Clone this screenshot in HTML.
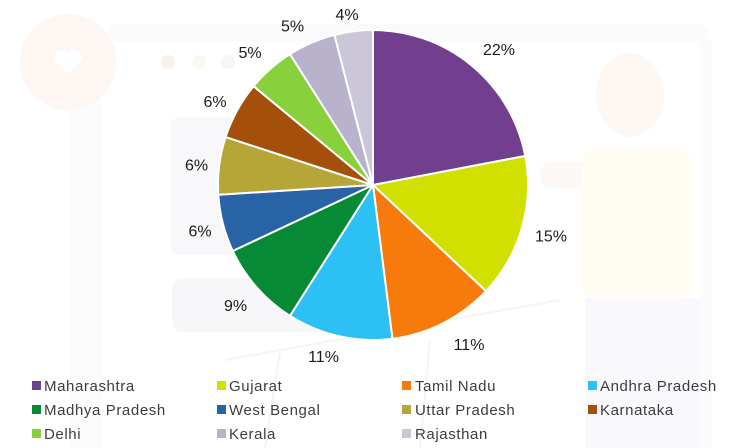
<!DOCTYPE html>
<html><head><meta charset="utf-8"><style>
html,body{margin:0;padding:0;background:#fff;}
body{width:741px;height:448px;overflow:hidden;position:relative;font-family:"Liberation Sans",sans-serif;}
svg{position:absolute;left:0;top:0;}
</style></head><body>
<svg width="741" height="448" viewBox="0 0 741 448" xmlns="http://www.w3.org/2000/svg">
<!-- faint background illustration -->
<rect x="108" y="24" width="600" height="17" rx="8" fill="#fafafc"/>
<rect x="70" y="100" width="32" height="348" fill="#fcfcfd"/>
<rect x="700" y="40" width="12" height="408" fill="#fbfbfd"/>
<circle cx="68" cy="62" r="48" fill="#fdf6f3"/>
<path d="M68 74 L56 62 A6 6 0 0 1 68 53 A6 6 0 0 1 80 62 Z" fill="#ffffff"/>
<circle cx="168" cy="62" r="7" fill="#faf1eb"/>
<circle cx="199" cy="62" r="7" fill="#f9faef"/>
<circle cx="228" cy="62" r="7" fill="#f5f6fa"/>
<rect x="170" y="117" width="200" height="138" rx="10" fill="#f8f8fa"/>
<rect x="172" y="278" width="160" height="54" rx="10" fill="#f7f7f9"/>
<ellipse cx="630" cy="95" rx="34" ry="42" fill="#fef8f4"/>
<rect x="540" y="162" width="70" height="26" rx="12" fill="#fef8f4"/>
<rect x="582" y="150" width="110" height="150" rx="14" fill="#fffdf3"/>
<rect x="585" y="298" width="115" height="150" fill="#f9f9fd"/>
<path d="M225 360 L560 300 M280 352 L265 448 M430 340 L420 448" stroke="#f4f4f6" stroke-width="2" fill="none"/>

<!-- pie -->
<g stroke="#ffffff" stroke-width="2" stroke-linejoin="round">
<path d="M373 185 L373 30 A155 155 0 0 1 525.25 155.96 Z" fill="#713f8d"/>
<path d="M373 185 L525.25 155.96 A155 155 0 0 1 485.99 291.11 Z" fill="#d2e000"/>
<path d="M373 185 L485.99 291.11 A155 155 0 0 1 392.43 338.78 Z" fill="#f77b0c"/>
<path d="M373 185 L392.43 338.78 A155 155 0 0 1 289.95 315.87 Z" fill="#2cc0f5"/>
<path d="M373 185 L289.95 315.87 A155 155 0 0 1 232.75 251.0 Z" fill="#078a36"/>
<path d="M373 185 L232.75 251.0 A155 155 0 0 1 218.30 194.73 Z" fill="#2863a8"/>
<path d="M373 185 L218.30 194.73 A155 155 0 0 1 225.59 137.10 Z" fill="#b5a637"/>
<path d="M373 185 L225.59 137.10 A155 155 0 0 1 253.57 86.20 Z" fill="#a5500a"/>
<path d="M373 185 L253.57 86.20 A155 155 0 0 1 289.95 54.13 Z" fill="#88d03c"/>
<path d="M373 185 L289.95 54.13 A155 155 0 0 1 334.45 34.87 Z" fill="#b9b2cc"/>
<path d="M373 185 L334.45 34.87 A155 155 0 0 1 373 30 Z" fill="#cbc6d8"/>
</g>

<!-- percentage labels -->
<g font-family="Liberation Sans, sans-serif" font-size="16" fill="#1c1c1c" text-anchor="middle">
<text x="499" y="55">22%</text>
<text x="551" y="241.5">15%</text>
<text x="469" y="350">11%</text>
<text x="323.5" y="362">11%</text>
<text x="235.5" y="311">9%</text>
<text x="200" y="236.5">6%</text>
<text x="196.5" y="170.5">6%</text>
<text x="215" y="107">6%</text>
<text x="250" y="58">5%</text>
<text x="292.5" y="31.5">5%</text>
<text x="347" y="20">4%</text>
</g>

<!-- legend -->
<g font-family="Liberation Sans, sans-serif" font-size="15" fill="#3d3d3d" letter-spacing="0.6">
<rect x="32" y="381" width="9" height="9" fill="#713f8d"/><text x="44" y="391">Maharashtra</text>
<rect x="217" y="381" width="9" height="9" fill="#d2e000"/><text x="229" y="391">Gujarat</text>
<rect x="402" y="381" width="9" height="9" fill="#f77b0c"/><text x="415" y="391">Tamil Nadu</text>
<rect x="588" y="381" width="9" height="9" fill="#2cc0f5"/><text x="600" y="391">Andhra Pradesh</text>

<rect x="32" y="405" width="9" height="9" fill="#078a36"/><text x="44" y="415">Madhya Pradesh</text>
<rect x="217" y="405" width="9" height="9" fill="#2863a8"/><text x="229" y="415">West Bengal</text>
<rect x="402" y="405" width="9" height="9" fill="#b5a637"/><text x="415" y="415">Uttar Pradesh</text>
<rect x="588" y="405" width="9" height="9" fill="#a5500a"/><text x="600" y="415">Karnataka</text>

<rect x="32" y="429" width="9" height="9" fill="#88d03c"/><text x="44" y="439">Delhi</text>
<rect x="217" y="429" width="9" height="9" fill="#b9b2cc"/><text x="229" y="439">Kerala</text>
<rect x="402" y="429" width="9" height="9" fill="#cbc6d8"/><text x="415" y="439">Rajasthan</text>
</g>
</svg>
</body></html>
